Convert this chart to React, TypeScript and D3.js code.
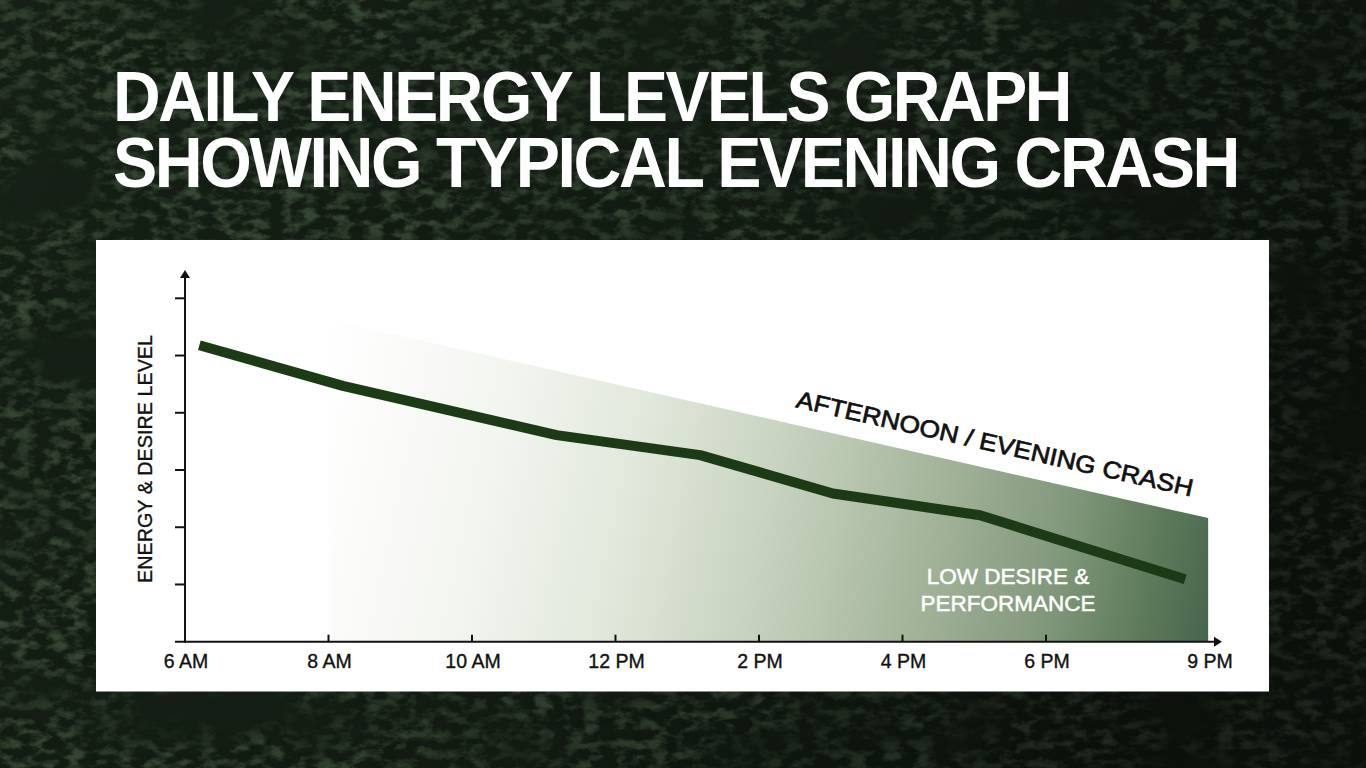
import React from "react";
import * as d3 from "d3";

// ---- data ----
const titleLines = ["DAILY ENERGY LEVELS GRAPH", "SHOWING TYPICAL EVENING CRASH"];
const tickHours = [6, 8, 10, 12, 14, 16, 18];
const tickLabels = ["6 AM", "8 AM", "10 AM", "12 PM", "2 PM", "4 PM", "6 PM"];
const endLabel = "9 PM";
const endHour = 20.3;
const levelTicks = [1, 2, 3, 4, 5, 6];
const lineHours = [6.2, 8.2, 11.18, 13.18, 15.03, 17.08, 19.94];
const lineEnergy = [5.18, 4.47, 3.61, 3.26, 2.59, 2.21, 1.09];
const zoneHours = [8.0, 20.26];
const zoneTop = [5.63, 2.16];
const yAxisTitle = "ENERGY & DESIRE LEVEL";
const zoneLabel = "AFTERNOON / EVENING CRASH";
const lowLabel = ["LOW DESIRE &", "PERFORMANCE"];

const W = 1366;
const H = 768;
const FONT = "'Liberation Sans', Arial, Helvetica, sans-serif";

export default function App() {
  const x = d3.scaleLinear().domain([6, 18]).range([185, 1046]);
  const y = d3.scaleLinear().domain([0, 6]).range([641.7, 298.3]);

  const linePts = lineHours.map((h, i) => [h, lineEnergy[i]] as [number, number]);
  const zonePts = zoneHours.map((h, i) => [h, zoneTop[i]] as [number, number]);

  const line = d3
    .line<[number, number]>()
    .x((d) => x(d[0]))
    .y((d) => y(d[1]));
  const area = d3
    .area<[number, number]>()
    .x((d) => x(d[0]))
    .y0(y(0))
    .y1((d) => y(d[1]));

  const x0 = x(6);
  const y0 = y(0);
  const axisLeftEnd = x0 - 10;
  const axisRightEnd = x(endHour) + 11;
  const axisTop = 270;

  const zx1 = x(zoneHours[0]);
  const zy1 = y(zoneTop[0]);
  const zx2 = x(zoneHours[1]);
  const zy2 = y(zoneTop[1]);
  const angle = (Math.atan2(zy2 - zy1, zx2 - zx1) * 180) / Math.PI;

  return (
    <>
      <style>{`body{margin:0;background:#141c14;overflow:hidden}`}</style>
      <svg width={W} height={H} style={{ display: "block" }}>
        <defs>
          <filter id="foliage" x="0" y="0" width="100%" height="100%">
            <feTurbulence type="fractalNoise" baseFrequency="0.06 0.1" numOctaves="5" seed="11" result="n1" />
            <feColorMatrix
              in="n1"
              type="matrix"
              values="0 0 0 0 0.18  0 0 0 0 0.30  0 0 0 0 0.16  3.4 0 0 0 -1.5"
              result="c1"
            />
            <feTurbulence type="fractalNoise" baseFrequency="0.007 0.012" numOctaves="3" seed="4" result="n2" />
            <feColorMatrix
              in="n2"
              type="matrix"
              values="0 0 0 0 0.01  0 0 0 0 0.02  0 0 0 0 0.01  0 3.0 0 0 -1.2"
              result="c2"
            />
            <feMerge>
              <feMergeNode in="c1" />
              <feMergeNode in="c2" />
            </feMerge>
          </filter>
          <linearGradient id="shade" x1="0" y1="0" x2="1" y2="0.3">
            <stop offset="0" stopColor="#000" stopOpacity="0.05" />
            <stop offset="0.6" stopColor="#000" stopOpacity="0.2" />
            <stop offset="1" stopColor="#000" stopOpacity="0.5" />
          </linearGradient>
          <linearGradient
            id="zoneGrad"
            gradientUnits="userSpaceOnUse"
            x1={296}
            y1={480}
            x2={296 + 940 * 0.978}
            y2={480 + 940 * 0.205}
          >
            <stop offset="0" stopColor="#ffffff" />
            <stop offset="0.2" stopColor="#f3f5f0" />
            <stop offset="0.36" stopColor="#e0e7da" />
            <stop offset="0.51" stopColor="#c6d1bd" />
            <stop offset="0.66" stopColor="#a6b69d" />
            <stop offset="0.81" stopColor="#82987c" />
            <stop offset="0.9" stopColor="#617e5d" />
            <stop offset="1" stopColor="#41614a" />
          </linearGradient>
        </defs>

        {/* background */}
        <rect x={0} y={0} width={W} height={H} fill="#162016" />
        <rect x={0} y={0} width={W} height={H} filter="url(#foliage)" opacity={0.4} />
        <rect x={0} y={0} width={W} height={H} fill="url(#shade)" />

        {/* title */}
        {titleLines.map((t, i) => (
          <text
            key={t}
            x={113}
            y={i === 0 ? 120.5 : 187}
            fill="#ffffff"
            fontFamily={FONT}
            fontWeight={700}
            fontSize={70}
            letterSpacing={-2.6}
            textLength={i === 0 ? 957 : 1125}
            lengthAdjust="spacingAndGlyphs"
          >
            {t}
          </text>
        ))}

        {/* panel */}
        <rect x={96} y={240} width={1173} height={451.5} fill="#ffffff" />

        {/* crash zone */}
        <path d={area(zonePts) || ""} fill="url(#zoneGrad)" />

        {/* energy line */}
        <path
          d={line(linePts) || ""}
          fill="none"
          stroke="#1d3a16"
          strokeWidth={10}
          strokeLinejoin="round"
          strokeLinecap="butt"
        />

        {/* y axis */}
        <line x1={x0} x2={x0} y1={y0 + 1} y2={axisTop + 6} stroke="#111" strokeWidth={2} />
        <path d={`M${x0 - 5},${axisTop + 8} L${x0},${axisTop} L${x0 + 5},${axisTop + 8} Z`} fill="#111" />
        {levelTicks.map((v) => (
          <line key={v} x1={axisLeftEnd} x2={x0} y1={y(v)} y2={y(v)} stroke="#111" strokeWidth={2} />
        ))}

        {/* x axis */}
        <line x1={axisLeftEnd} x2={axisRightEnd - 6} y1={y0} y2={y0} stroke="#111" strokeWidth={2} />
        <path d={`M${axisRightEnd - 8},${y0 - 5} L${axisRightEnd},${y0} L${axisRightEnd - 8},${y0 + 5} Z`} fill="#111" />
        {tickHours.slice(1).map((h) => (
          <line key={h} x1={x(h)} x2={x(h)} y1={y0 - 7} y2={y0} stroke="#111" strokeWidth={2} />
        ))}
        {tickHours.map((h, i) => (
          <text
            key={h}
            x={x(h) + 1}
            y={667.5}
            textAnchor="middle"
            fontFamily={FONT}
            fontSize={19.5}
            fill="#111"
            stroke="#111"
            strokeWidth={0.35}
          >
            {tickLabels[i]}
          </text>
        ))}
        <text
          x={x(endHour) - 1}
          y={667.5}
          textAnchor="middle"
          fontFamily={FONT}
          fontSize={19.5}
          fill="#111"
          stroke="#111"
          strokeWidth={0.35}
        >
          {endLabel}
        </text>

        {/* y axis title */}
        <text
          transform={`translate(152,459) rotate(-90)`}
          textAnchor="middle"
          fontFamily={FONT}
          fontSize={19.5}
          fill="#111"
          stroke="#111"
          strokeWidth={0.35}
          textLength={248}
          lengthAdjust="spacingAndGlyphs"
        >
          {yAxisTitle}
        </text>

        {/* zone label */}
        <text
          transform={`translate(795,407) rotate(${angle})`}
          fontFamily={FONT}
          fontSize={24}
          fill="#111"
          stroke="#111"
          strokeWidth={0.7}
          textLength={406}
          lengthAdjust="spacingAndGlyphs"
        >
          {zoneLabel}
        </text>

        {/* low desire label */}
        {lowLabel.map((t, i) => (
          <text
            key={t}
            x={1008}
            y={584 + i * 26.5}
            textAnchor="middle"
            fontFamily={FONT}
            fontSize={22.5}
            fill="#ffffff"
            stroke="#ffffff"
            strokeWidth={0.5}
          >
            {t}
          </text>
        ))}
      </svg>
    </>
  );
}
